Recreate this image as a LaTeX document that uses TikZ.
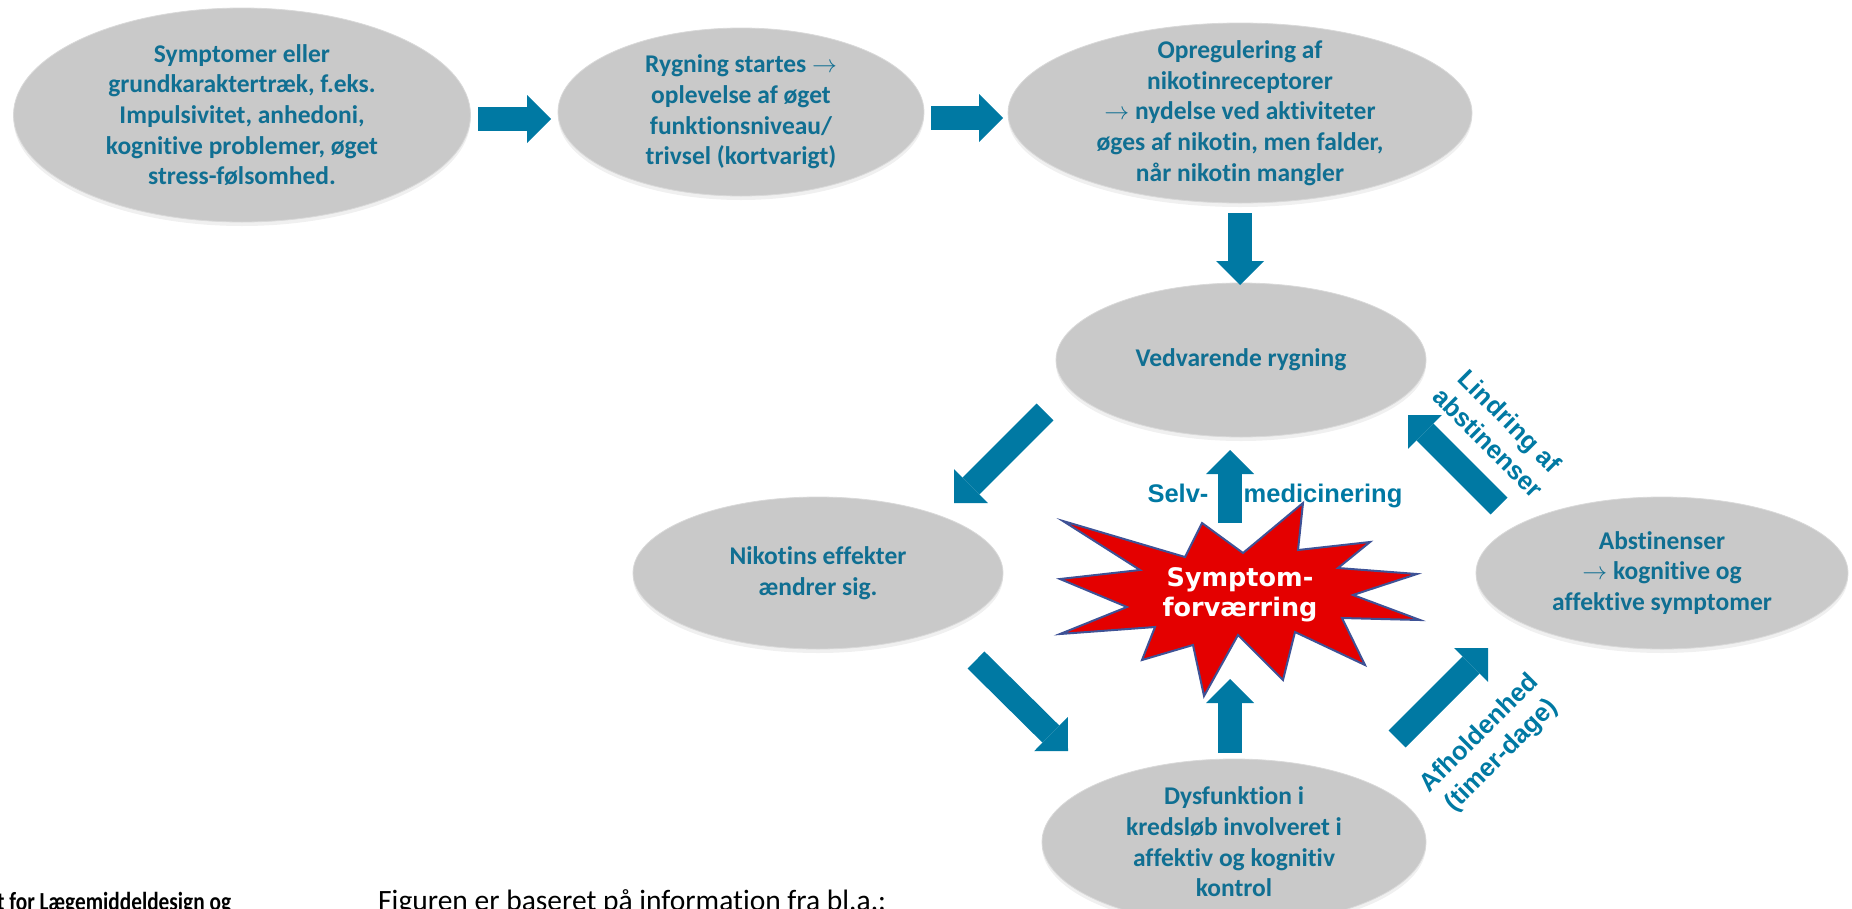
\documentclass[tikz,border=0pt]{standalone}
\usepackage{fontspec}
\setmainfont{Carlito}[Ligatures=NoCommon]
\newfontfamily\arialfont{Liberation Sans}
\newfontfamily\verdanafont{DejaVu Sans}
\usepackage{xcolor}
\usepackage{tikz}
\usetikzlibrary{shapes.geometric, arrows.meta, shadows}

\definecolor{tekstblaa}{RGB}{16,111,146}
\definecolor{pilblaa}{RGB}{0,121,163}
\definecolor{stjernerod}{RGB}{228,0,0}
\definecolor{stjernekant}{RGB}{62,82,150}

\pgfdeclareradialshading{boble}{\pgfpointorigin}{%
  color(0bp)=(gray!42); color(39bp)=(gray!42); color(46bp)=(gray!38);
  color(48.5bp)=(gray!24); color(50bp)=(gray!8)}

\begin{document}
\begin{tikzpicture}[x=1pt, y=-1pt,
    boble/.style={ellipse, shading=boble, draw=gray!30, line width=0.8pt, inner sep=-40pt,
      drop shadow={shadow xshift=0pt, shadow yshift=-4pt, opacity=0.12, fill=gray},
      align=center, text=tekstblaa, font=\bfseries\fontsize{25.5}{30.7}\selectfont},
    pil/.style={draw=pilblaa, line width=24pt, -{Triangle[length=24pt, width=48pt, line width=0pt]}},
    piltekst/.style={text=pilblaa, align=center, font=\arialfont\bfseries\fontsize{25.5}{31}\selectfont},
  ]
    \useasboundingbox (0,0) rectangle (1852,908);

    % Bobler
    \node[boble, minimum width=457pt, minimum height=214pt] (symptomer) at (242,115)
      {Symptomer eller\\ grundkaraktertræk, f.eks.\\ Impulsivitet, anhedoni,\\ kognitive problemer, øget\\ stress-følsomhed.};
    \node[boble, minimum width=366pt, minimum height=168pt] (start) at (741,112)
      {Rygning startes $\rightarrow$\\ oplevelse af øget\\ funktionsniveau/\\ trivsel (kortvarigt)};
    \node[boble, minimum width=464pt, minimum height=180pt] (opreg) at (1240,113)
      {Opregulering af\\ nikotinreceptorer\\ $\rightarrow$ nydelse ved aktiviteter\\ øges af nikotin, men falder,\\ når nikotin mangler};
    \node[boble, minimum width=370pt, minimum height=154pt] (vedv) at (1241,360) {Vedvarende rygning};
    \node[boble, minimum width=370pt, minimum height=152pt] (effekt) at (818,573) {Nikotins effekter\\ ændrer sig.};
    \node[boble, minimum width=384pt, minimum height=166pt] (dysf) at (1234,842)
      {Dysfunktion i\\ kredsløb involveret i\\ affektiv og kognitiv\\ kontrol};
    \node[boble, minimum width=372pt, minimum height=152pt] (abst) at (1662,573)
      {Abstinenser\\ $\rightarrow$ kognitive og\\ affektive symptomer};

    % Stjerne
    \draw[fill=stjernerod, draw=stjernekant, line width=2pt, line join=miter]
      (1063,521) -- (1185,557) -- (1202,523) -- (1243,553) -- (1303,503) -- (1298,550)
      -- (1370,542) -- (1338,568) -- (1417,574) -- (1353,595) -- (1420,620) -- (1342,618)
      -- (1365,665) -- (1295,632) -- (1283,680) -- (1238,635) -- (1204,696) -- (1193,645)
      -- (1142,660) -- (1155,627) -- (1060,634) -- (1127,607) -- (1060,579) -- (1140,570) -- cycle;
    \node[text=white, align=center, font=\verdanafont\bfseries\fontsize{25.5}{30}\selectfont] (forv) at (1240,595)
      {Symptom-\\forværring};

    % Pile
    \coordinate (p1) at (478,119);  \coordinate (q1) at (551,119);
    \coordinate (p2) at (931,118);  \coordinate (q2) at (1003,118);
    \coordinate (p3) at (1240,213); \coordinate (q3) at (1240,285);
    \coordinate (p4) at (1045,412); \coordinate (q4) at (954,503);
    \coordinate (p5) at (976,660);  \coordinate (q5) at (1068,751);
    \coordinate (p6) at (1230,753); \coordinate (q6) at (1230,679);
    \coordinate (p7) at (1230,523); \coordinate (q7) at (1230,450);
    \coordinate (p8) at (1499,506); \coordinate (q8) at (1408,415);
    \coordinate (p9) at (1397,739); \coordinate (q9) at (1488,648);
    \draw[pil] (p1) -- (q1);
    \draw[pil] (p2) -- (q2);
    \draw[pil] (p3) -- (q3);
    \draw[pil] (p4) -- (q4);
    \draw[pil] (p5) -- (q5);
    \draw[pil] (p6) -- (q6);
    \draw[pil] (p7) -- (q7);
    \draw[pil] (p8) -- (q8);
    \draw[pil] (p9) -- (q9);

    \node[piltekst, anchor=base] (selv) at (1178,502) {Selv-};
    \node[piltekst, anchor=base] (medicin) at (1323,502) {medicinering};
    \node[piltekst, rotate=-45] (lindring) at (1499,432) {Lindring af\\abstinenser};
    \node[piltekst, rotate=45] (afhold) at (1491,745) {Afholdenhed\\(timer-dage)};

    % Tekst nederst
    \node[anchor=base west, inner sep=0pt, font=\bfseries\fontsize{26}{30}\selectfont] (institut) at (-3,910)
      {\scalebox{0.82}[1]{t for Lægemiddeldesign og}};
    \node[anchor=base west, inner sep=0pt, font=\fontsize{29.5}{34}\selectfont] (kilde) at (378,910)
      {Figuren er baseret på information fra bl.a.:};
\end{tikzpicture}
\end{document}
